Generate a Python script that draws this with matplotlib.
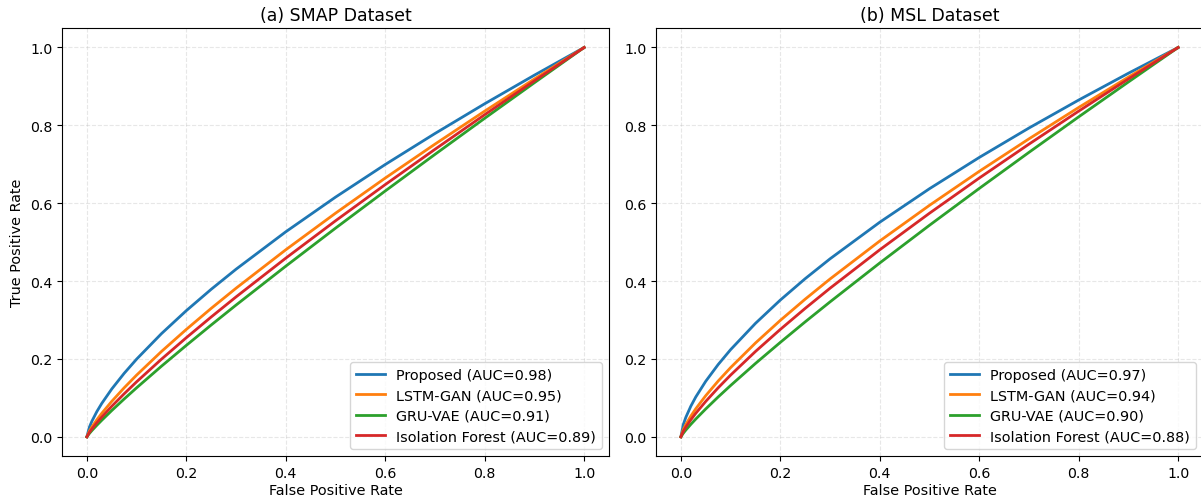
import matplotlib
matplotlib.use("Agg")
import matplotlib.pyplot as plt

# False positive rate sample points (shared)
fpr = [0.0, 0.005, 0.01, 0.02, 0.03, 0.05, 0.075, 0.1, 0.15, 0.2, 0.25, 0.3,
       0.4, 0.5, 0.6, 0.7, 0.8, 0.9, 1.0]

# SMAP dataset TPR values
smap_proposed = [0.0, 0.0245, 0.0398, 0.0647, 0.0859, 0.1228, 0.1631, 0.1995, 0.2650, 0.3241,
                 0.3789, 0.4305, 0.5266, 0.6156, 0.6994, 0.7790, 0.8554, 0.9289, 1.0]
smap_lstm_gan = [0.0, 0.0144, 0.0251, 0.0437, 0.0605, 0.0910, 0.1259, 0.1585, 0.2192, 0.2759,
                 0.3299, 0.3817, 0.4804, 0.5743, 0.6646, 0.7517, 0.8365, 0.9191, 1.0]
smap_gru_vae = [0.0, 0.0085, 0.0159, 0.0296, 0.0426, 0.0675, 0.0972, 0.1259, 0.1814, 0.2349,
                0.2872, 0.3384, 0.4383, 0.5359, 0.6314, 0.7254, 0.8181, 0.9095, 1.0]
smap_iforest = [0.0, 0.0111, 0.0200, 0.0360, 0.0508, 0.0784, 0.1106, 0.1413, 0.1994, 0.2546,
                0.3078, 0.3594, 0.4589, 0.5548, 0.6478, 0.7384, 0.8273, 0.9143, 1.0]

# MSL dataset TPR values
msl_proposed = [0.0, 0.0319, 0.0501, 0.0786, 0.1024, 0.1427, 0.1857, 0.2239, 0.2914, 0.3513,
                0.4062, 0.4572, 0.5512, 0.6373, 0.7175, 0.7931, 0.8650, 0.9338, 1.0]
msl_lstm_gan = [0.0, 0.0188, 0.0316, 0.0532, 0.0721, 0.1057, 0.1433, 0.1778, 0.2410, 0.2991,
                0.3536, 0.4054, 0.5030, 0.5946, 0.6818, 0.7653, 0.8459, 0.9240, 1.0]
msl_gru_vae = [0.0, 0.0094, 0.0174, 0.0320, 0.0457, 0.0716, 0.1024, 0.1318, 0.1884, 0.2426,
               0.2953, 0.3466, 0.4465, 0.5434, 0.6379, 0.7306, 0.8218, 0.9114, 1.0]
msl_iforest = [0.0, 0.0144, 0.0251, 0.0437, 0.0605, 0.0910, 0.1259, 0.1585, 0.2192, 0.2759,
               0.3299, 0.3817, 0.4804, 0.5743, 0.6646, 0.7517, 0.8365, 0.9191, 1.0]

methods = ["Proposed", "LSTM-GAN", "GRU-VAE", "Isolation Forest"]
smap_auc = [0.98, 0.95, 0.91, 0.89]
msl_auc = [0.97, 0.94, 0.90, 0.88]
titles = ["(a) SMAP Dataset", "(b) MSL Dataset"]
xticks = [0.0, 0.2, 0.4, 0.6, 0.8, 1.0]
yticks = [0.0, 0.2, 0.4, 0.6, 0.8, 1.0]

colors = ["#1f77b4", "#ff7f0e", "#2ca02c", "#d62728"]

fig = plt.figure(figsize=(12.01, 5.02), dpi=100)
W, H = 1201.0, 502.0
ax1 = fig.add_axes([62 / W, (H - 457.3) / H, 547 / W, 428.3 / H])
ax2 = fig.add_axes([656 / W, (H - 457.3) / H, 547 / W, 428.3 / H])

datasets = [
    (ax1, [smap_proposed, smap_lstm_gan, smap_gru_vae, smap_iforest], smap_auc, titles[0]),
    (ax2, [msl_proposed, msl_lstm_gan, msl_gru_vae, msl_iforest], msl_auc, titles[1]),
]

for i, (ax, series, aucs, title) in enumerate(datasets):
    for name, tpr, auc, c in zip(methods, series, aucs, colors):
        ax.plot(fpr, tpr, color=c, lw=2, label=f"{name} (AUC={auc:.2f})")
    ax.set_title(title, fontsize=12.5, pad=6)
    ax.set_xlabel("False Positive Rate", fontsize=10.4, labelpad=2)
    if i == 0:
        ax.set_ylabel("True Positive Rate", fontsize=10.4, labelpad=4)
    ax.set_xticks(xticks)
    ax.set_yticks(yticks)
    ax.tick_params(labelsize=10.2)
    ax.grid(True, linestyle="--", alpha=0.3)
    ax.legend(loc="lower right", fontsize=10.4, labelspacing=0.45)

fig.savefig("out.png", dpi=100)
